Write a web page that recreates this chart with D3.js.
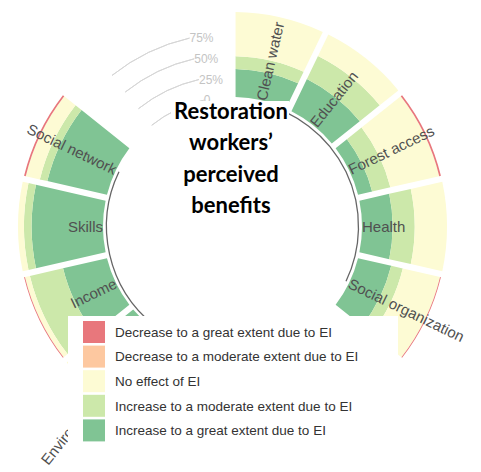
<!DOCTYPE html>
<html><head><meta charset="utf-8">
<script src="https://cdn.jsdelivr.net/npm/d3@7"></script>
<style>body{margin:0;background:#fff}</style>
</head><body><svg id="c" width="481" height="472"></svg>
<script>
// ---- data ----
const categories = ["Clean water","Education","Forest access","Health","Social organization",
                    "Environmental awareness","Income","Skills","Social network"];
const groups = ["A","A","A","A","A","B","B","B","B"];
const emptySlotsAfterGroup = {A:3, B:2};
const incGreat    = [33,42,17,36,40,45,53,84,72];
const incModerate = [15,30,22,26,14,30,40,9,9];
const noEffect    = [52,28,59,38,45,25,6,7,17];
const decModerate = [0,0,0,0,0,0,0,0,0];
const decGreat    = [0,0,2,0,1,0,1,0,2];
const seriesKeys = ["incGreat","incModerate","noEffect","decModerate","decGreat"];
const legendKeys = ["decGreat","decModerate","noEffect","incModerate","incGreat"];
const legendLabels = ["Decrease to a great extent due to EI","Decrease to a moderate extent due to EI",
                      "No effect of EI","Increase to a moderate extent due to EI","Increase to a great extent due to EI"];
const gridValues = [0,25,50,75];
const gridLabels = ["0","25%","50%","75%"];
const titleLines = ["Restoration","workers\u2019","perceived","benefits"];

const colors = {decGreat:"#e8777c", decModerate:"#fdc8a0", noEffect:"#fdfbd4", incModerate:"#cce8aa", incGreat:"#80c494"};

// ---- layout ----
const W=481,H=472, cx=232.5, cy=226.5;
const svg = d3.select("#c");
const g = svg.append("g").attr("transform",`translate(${cx},${cy})`);

const slots=[]; const groupIds=[...new Set(groups)];
groupIds.forEach(gr=>{
  categories.forEach((c,i)=>{ if(groups[i]===gr) slots.push(c); });
  for(let k=0;k<emptySlotsAfterGroup[gr];k++) slots.push("__empty_"+gr+k);
});
const x = d3.scaleBand().domain(slots).range([0,2*Math.PI]);
const bw = x.bandwidth();
const r = d3.scaleLinear().domain([0,100]).range([129.5,214.5]);

const rows = categories.map((c,i)=>({cat:c, incGreat:incGreat[i], incModerate:incModerate[i],
  noEffect:noEffect[i], decModerate:decModerate[i], decGreat:decGreat[i]}));
const stacked = d3.stack().keys(seriesKeys)(rows);

const arc = d3.arc()
  .innerRadius(d=>r(d[0])).outerRadius(d=>r(d[1]))
  .startAngle(d=>x(d.data.cat)).endAngle(d=>x(d.data.cat)+bw)
  .padAngle(0.036).padRadius(170);

// grid lines in the empty slots
const gridSlots = slots.filter(s=>s.startsWith("__empty_B"));
const gA0 = x(gridSlots[0])+bw/2, gA1 = x(gridSlots[gridSlots.length-1])+bw/2;
const gridG = g.append("g");
gridValues.forEach((v,i)=>{
  gridG.append("path").attr("d", d3.arc()({innerRadius:r(v),outerRadius:r(v),startAngle:gA0,endAngle:gA1}))
    .attr("fill","none").attr("stroke","#d6d6d6").attr("stroke-width",1);
  const a = gA1 - Math.PI/2;
  gridG.append("text").attr("x", r(v)*Math.cos(a)).attr("y", r(v)*Math.sin(a))
    .attr("dy","0.35em").attr("text-anchor","start")
    .attr("font-family","Liberation Sans, Arial, sans-serif").attr("font-size",12)
    .attr("fill","#c4c4c4").text(gridLabels[i]);
});

// bars
g.append("g").selectAll("g").data(stacked).join("g")
  .attr("fill",d=>colors[d.key])
  .selectAll("path").data(d=>d.filter(s=>s[1]>s[0])).join("path")
  .attr("d",arc);

// group base lines
groupIds.forEach(gr=>{
  const cats = categories.filter((c,i)=>groups[i]===gr);
  const a0 = x(cats[0])+bw/2, a1 = x(cats[cats.length-1])+bw/2;
  g.append("path").attr("d", d3.arc()({innerRadius:126,outerRadius:126,startAngle:a0,endAngle:a1}))
    .attr("fill","none").attr("stroke","#666").attr("stroke-width",1.3);
});

// category labels
g.append("g").selectAll("text").data(categories).join("text")
  .attr("transform", c=>{
    const deg = (x(c)+bw/2)*180/Math.PI;
    return deg<180 ? `rotate(${deg-90}) translate(${r(0)},0)`
                   : `rotate(${deg-90}) translate(${r(0)},0) rotate(180)`;
  })
  .attr("text-anchor", c=> (x(c)+bw/2)*180/Math.PI<180 ? "start":"end")
  .attr("dy","0.35em")
  .attr("font-family","Liberation Sans, Arial, sans-serif").attr("font-size",15)
  .attr("fill","#505050").text(c=>c);

// title
svg.append("rect").attr("x",171).attr("y",101).attr("width",118).attr("height",121).attr("fill","#fff");
svg.append("g").selectAll("text").data(titleLines).join("text")
  .attr("x",231).attr("y",(d,i)=>119+i*31.3)
  .attr("text-anchor","middle").attr("font-family","Lato, 'Open Sans', sans-serif")
  .attr("font-weight","bold").attr("font-size",22).attr("fill","#000").text(d=>d);

// legend
const lg = svg.append("g");
lg.append("rect").attr("x",68).attr("y",316).attr("width",330).attr("height",136).attr("fill","#fff");
legendKeys.forEach((k,i)=>{
  const y0 = 321 + i*24.6;
  lg.append("rect").attr("x",83).attr("y",y0).attr("width",22).attr("height",22).attr("fill",colors[k]);
  lg.append("text").attr("x",115).attr("y",y0+11).attr("dy","0.35em")
    .attr("font-family","Liberation Sans, Arial, sans-serif").attr("font-size",13.5)
    .attr("fill","#333").text(legendLabels[i]);
});
</script></body></html>
